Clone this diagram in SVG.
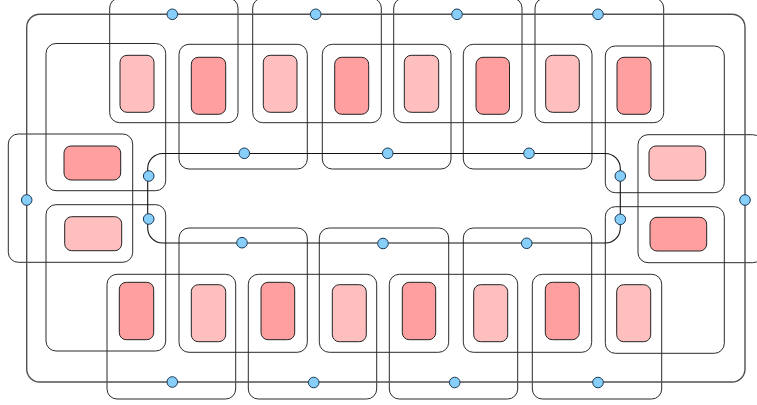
<svg xmlns="http://www.w3.org/2000/svg" width="757" height="405" viewBox="0 0 757 405">
  <style>
    .group { fill: none; stroke: #2a2a2a; stroke-width: 1; }
    .light { fill: #FFBFBF; stroke: #222222; stroke-width: 1; }
    .dark { fill: #FF9F9F; stroke: #222222; stroke-width: 1; }
    .outer { fill: none; stroke: #505050; stroke-width: 1.4; }
    .inner { fill: none; stroke: #111111; stroke-width: 1.1; }
    .port { fill: #87CEFA; stroke: #1a3a55; stroke-width: 1; }
  </style>
  <rect width="757" height="405" fill="#ffffff"/>

  <!-- group frames -->
  <g id="groups">
    <rect id="g-top-1" class="group" x="109.7" y="-2" width="128.3" height="124.7" rx="10"/>
    <rect id="g-top-2" class="group" x="252.7" y="-2" width="128.6" height="124.7" rx="10"/>
    <rect id="g-top-3" class="group" x="393.7" y="-2" width="128.3" height="124.7" rx="10"/>
    <rect id="g-top-4" class="group" x="535" y="-2" width="128.7" height="124.7" rx="10"/>

    <rect id="g-up-1" class="group" x="46" y="43.5" width="119.7" height="147.2" rx="10"/>
    <rect id="g-up-2" class="group" x="179" y="44.3" width="128.3" height="124.7" rx="10"/>
    <rect id="g-up-3" class="group" x="322.3" y="44.3" width="128.7" height="124.7" rx="10"/>
    <rect id="g-up-4" class="group" x="463.3" y="44.3" width="128.7" height="124.7" rx="10"/>
    <rect id="g-up-5" class="group" x="605.3" y="46" width="119" height="146.7" rx="10"/>

    <rect id="g-left" class="group" x="8.3" y="134" width="124.4" height="128.3" rx="10"/>
    <rect id="g-right" class="group" x="638" y="134.7" width="124.7" height="128" rx="10"/>

    <rect id="g-low-1" class="group" x="46" y="204.7" width="119.7" height="146.3" rx="10"/>
    <rect id="g-low-2" class="group" x="179" y="228" width="128.3" height="124.3" rx="10"/>
    <rect id="g-low-3" class="group" x="319.3" y="228" width="129.4" height="124.3" rx="10"/>
    <rect id="g-low-4" class="group" x="463.3" y="228" width="128.4" height="124.3" rx="10"/>
    <rect id="g-low-5" class="group" x="605.3" y="206.7" width="119" height="146.6" rx="10"/>

    <rect id="g-bot-1" class="group" x="107" y="274.3" width="128.7" height="124.7" rx="10"/>
    <rect id="g-bot-2" class="group" x="248.3" y="274.3" width="128.4" height="124.7" rx="10"/>
    <rect id="g-bot-3" class="group" x="389.3" y="274.3" width="128.4" height="124.7" rx="10"/>
    <rect id="g-bot-4" class="group" x="532.3" y="274.3" width="129.4" height="124.7" rx="10"/>
  </g>

  <!-- connectors: outer and inner rings between ports -->
  <g id="connectors">
    <path class="outer" d="M172.3,14.3 H315.7"/>
    <path class="outer" d="M315.7,14.3 H457"/>
    <path class="outer" d="M457,14.3 H598"/>
    <path class="outer" d="M598,14.3 H732 A13,13 0 0 1 745,27.3 V200"/>
    <path class="outer" d="M745,200 V369 A13,13 0 0 1 732,382 H598"/>
    <path class="outer" d="M598,382 H454.7"/>
    <path class="outer" d="M454.7,382 H313.7"/>
    <path class="outer" d="M313.7,382 H172.3"/>
    <path class="outer" d="M172.3,382 H39.7 A13,13 0 0 1 26.7,369 V200"/>
    <path class="outer" d="M26.7,200 V27.3 A13,13 0 0 1 39.7,14.3 H172.3"/>

    <path class="inner" d="M244.3,153.5 H387.7"/>
    <path class="inner" d="M387.7,153.5 H529"/>
    <path class="inner" d="M529,153.5 H605.3 A15,15 0 0 1 620.3,168.5 V176"/>
    <path class="inner" d="M620.3,176 V219.3"/>
    <path class="inner" d="M620.3,219.3 V228 A15,15 0 0 1 605.3,243 H526.7"/>
    <path class="inner" d="M526.7,243 H383"/>
    <path class="inner" d="M383,243 H242"/>
    <path class="inner" d="M242,243 H162.7 A15,15 0 0 1 147.7,228 V219"/>
    <path class="inner" d="M147.7,219 V176"/>
    <path class="inner" d="M147.7,176 V168.5 A15,15 0 0 1 162.7,153.5 H244.3"/>
  </g>

  <!-- top row -->
  <g id="n-t1"><rect class="light" x="120" y="55.3" width="34" height="57" rx="7"/></g>
  <g id="n-t2"><rect class="dark" x="191.3" y="57.3" width="34.4" height="57" rx="7"/></g>
  <g id="n-t3"><rect class="light" x="263.3" y="55.3" width="33.7" height="57" rx="7"/></g>
  <g id="n-t4"><rect class="dark" x="334.7" y="57.3" width="34" height="57" rx="7"/></g>
  <g id="n-t5"><rect class="light" x="404.3" y="55.3" width="34.4" height="57" rx="7"/></g>
  <g id="n-t6"><rect class="dark" x="476" y="57.3" width="33.5" height="57" rx="7"/></g>
  <g id="n-t7"><rect class="light" x="545.7" y="55.3" width="33.6" height="57" rx="7"/></g>
  <g id="n-t8"><rect class="dark" x="617" y="57.3" width="34" height="57" rx="7"/></g>

  <!-- side nodes -->
  <g id="n-l1"><rect class="dark" x="64" y="146" width="56.7" height="34" rx="7"/></g>
  <g id="n-l2"><rect class="light" x="64.7" y="216.7" width="57" height="34" rx="7"/></g>
  <g id="n-r1"><rect class="light" x="649" y="146" width="56.7" height="34.3" rx="7"/></g>
  <g id="n-r2"><rect class="dark" x="650" y="217.3" width="56.7" height="33.7" rx="7"/></g>

  <!-- bottom row -->
  <g id="n-b1"><rect class="dark" x="119.3" y="282.3" width="34.4" height="57.4" rx="7"/></g>
  <g id="n-b2"><rect class="light" x="191.3" y="284.7" width="34.4" height="57" rx="7"/></g>
  <g id="n-b3"><rect class="dark" x="261" y="282.3" width="33.7" height="57.4" rx="7"/></g>
  <g id="n-b4"><rect class="light" x="332.3" y="284.7" width="34" height="57" rx="7"/></g>
  <g id="n-b5"><rect class="dark" x="402.3" y="282.3" width="33.4" height="57.4" rx="7"/></g>
  <g id="n-b6"><rect class="light" x="473.7" y="284.7" width="34" height="57" rx="7"/></g>
  <g id="n-b7"><rect class="dark" x="545.3" y="282.3" width="34" height="57.4" rx="7"/></g>
  <g id="n-b8"><rect class="light" x="616.7" y="284.7" width="34" height="57" rx="7"/></g>

  <!-- ports on the rings -->
  <g id="ports">
    <circle id="p-o1" class="port" cx="172.3" cy="14.3" r="5.3"/>
    <circle id="p-o2" class="port" cx="315.7" cy="14.3" r="5.3"/>
    <circle id="p-o3" class="port" cx="457" cy="14.3" r="5.3"/>
    <circle id="p-o4" class="port" cx="598" cy="14.3" r="5.3"/>
    <circle id="p-o5" class="port" cx="745" cy="200" r="5.3"/>
    <circle id="p-o6" class="port" cx="598" cy="382.5" r="5.3"/>
    <circle id="p-o7" class="port" cx="454.7" cy="382.5" r="5.3"/>
    <circle id="p-o8" class="port" cx="313.7" cy="382.5" r="5.3"/>
    <circle id="p-o9" class="port" cx="172.3" cy="382" r="5.3"/>
    <circle id="p-o10" class="port" cx="26.7" cy="200" r="5.3"/>

    <circle id="p-i1" class="port" cx="244.3" cy="153.3" r="5.3"/>
    <circle id="p-i2" class="port" cx="387.7" cy="153.3" r="5.3"/>
    <circle id="p-i3" class="port" cx="529" cy="153.3" r="5.3"/>
    <circle id="p-i4" class="port" cx="620.3" cy="176" r="5.3"/>
    <circle id="p-i5" class="port" cx="620.3" cy="219.3" r="5.3"/>
    <circle id="p-i6" class="port" cx="526.7" cy="243.3" r="5.3"/>
    <circle id="p-i7" class="port" cx="383" cy="243.5" r="5.3"/>
    <circle id="p-i8" class="port" cx="242" cy="242.7" r="5.3"/>
    <circle id="p-i9" class="port" cx="148.7" cy="219" r="5.3"/>
    <circle id="p-i10" class="port" cx="148.7" cy="176" r="5.3"/>
  </g>
</svg>
